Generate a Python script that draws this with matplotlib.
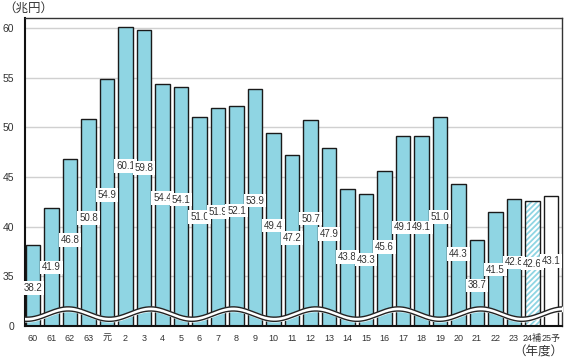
import numpy as np
import matplotlib.pyplot as plt

plt.rcParams['font.family'] = ['Liberation Sans', 'Noto Sans CJK JP']

# tax revenue by fiscal year (trillion yen)
years = ['60', '61', '62', '63', '元', '2', '3', '4', '5', '6', '7', '8', '9', '10',
         '11', '12', '13', '14', '15', '16', '17', '18', '19', '20', '21', '22',
         '23', '24補', '25予']
revenue = [38.2, 41.9, 46.8, 50.8, 54.9, 60.1, 59.8, 54.4, 54.1, 51.0, 51.9, 52.1,
           53.9, 49.4, 47.2, 50.7, 47.9, 43.8, 43.3, 45.6, 49.1, 49.1, 51.0, 44.3,
           38.7, 41.5, 42.8, 42.6, 43.1]
tick_values = [0, 35, 40, 45, 50, 55, 60]

# the axis is broken between 0 and 35: shift everything above the break
OFFSET = 30


def to_axis(v):
    return 0 if v == 0 else v - OFFSET


fill = '#8FD5E3'
x = np.arange(len(years))
h = np.array(revenue) - OFFSET

fig = plt.figure(figsize=(5.66, 3.6), dpi=100)
ax = fig.add_axes([0.0442, 0.0944, 0.949, 0.8556])

for v in tick_values[1:]:
    ax.axhline(to_axis(v), color='#d0d0d0', lw=1, zorder=0)

n_solid = len(years) - 2
ax.bar(x[:n_solid], h[:n_solid], width=0.8, color=fill, edgecolor='#1a1a1a',
       lw=1, zorder=2)

# 24補: hatched, 25予: empty
plt.rcParams['hatch.linewidth'] = 1.3
ax.bar(x[-2], h[-2], width=0.8, color='white', edgecolor=fill, hatch='//////',
       lw=0, zorder=2)
ax.bar(x[-2], h[-2], width=0.8, color='none', edgecolor='#1a1a1a', lw=1, zorder=3)
ax.bar(x[-1], h[-1], width=0.8, color='white', edgecolor='#1a1a1a', lw=1, zorder=2)

# wavy break band
wx = np.linspace(-0.5, len(years), 600)
upper = 1.41 + 0.52 * np.sin(2 * np.pi * (wx - 1.9) / 4.46 + np.pi / 2)
lower = upper - 0.42
ax.fill_between(wx, lower, upper, color='white', zorder=4)
ax.plot(wx, upper, color='#222222', lw=1, zorder=5)
ax.plot(wx, lower, color='#222222', lw=1, zorder=5)

# value labels in white boxes
for xi, v in zip(x, revenue):
    ly = 3.82 + 0.56 * (v - 38.2)
    ax.text(xi, ly, f'{v:.1f}', ha='center', va='center', fontsize=7,
            color='#333333', zorder=6,
            bbox=dict(boxstyle='square,pad=0.18', fc='white', ec='none'))

ax.set_xlim(-0.43, len(years) - 0.4)
ax.set_ylim(0, 31)
ax.set_yticks([to_axis(v) for v in tick_values])
ax.set_yticklabels([str(v) for v in tick_values], fontsize=7.5, color='#333333')
ax.set_xticks(x)
ax.set_xticklabels(years, fontsize=6.5, color='#333333')
ax.tick_params(axis='both', length=0)
ax.tick_params(axis='y', pad=8)
ax.tick_params(axis='x', pad=6)

for side in ['left', 'bottom']:
    ax.spines[side].set_linewidth(1.5)
    ax.spines[side].set_color('#111111')
for side in ['top', 'right']:
    ax.spines[side].set_linewidth(1)
    ax.spines[side].set_color('#333333')

fig.text(0.005, 0.975, '（兆円）', fontsize=9, color='#333333', va='center')
fig.text(0.995, 0.022, '（年度）', fontsize=9, color='#333333', va='center',
         ha='right')

fig.savefig('out.png', dpi=100)
